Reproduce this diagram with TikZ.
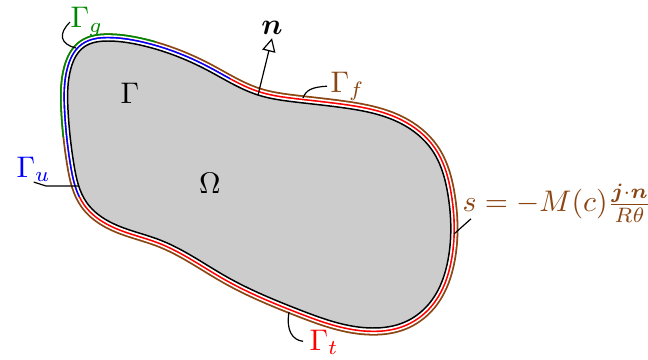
\documentclass[tikz,border=0pt]{standalone}
\usepackage{amsmath,amssymb}
\usepackage{bm}
\usepackage{tikz}
\usetikzlibrary{arrows.meta,hobby}
\definecolor{bdbrown}{RGB}{139,69,19}
\definecolor{bdgreen}{RGB}{0,135,0}
\newcommand{\bodypath}{plot[closed hobby] coordinates {(71,68) (84,47) (108,41) (140,45) (207,70) (258,95) (295,102) (345,108) (400,123) (432,150) (448,195) (448,260) (432,300) (405,322) (372,328) (300,310) (227,277) (160,240) (112,223) (87,203) (74,165) (68,110)}}

\begin{document}
\begin{tikzpicture}[
    x=0.0118cm, y=-0.0118cm,
    outerring/.style={line width=5.1pt, line join=round},
    outergap/.style={white, line width=3.9pt, line join=round},
    innerring/.style={line width=2.8pt, line join=round},
    innergap/.style={white, line width=1.7pt, line join=round},
    leader/.style={black, line width=0.4pt},
    bclabel/.style={anchor=base west, inner sep=0pt},
  ]
    \useasboundingbox (0,0) rectangle (648,360);

    % Outer boundary layer: Gamma_g (green) and flux part (brown)
    \draw[outerring, bdbrown] \bodypath;
    \begin{scope}
      \clip (40,137) -- (85,137) -- (149,69) -- (160,24) -- (160,0) -- (0,0) -- (0,137) -- cycle;
      \draw[outerring, bdgreen] \bodypath;
    \end{scope}
    \draw[outergap] \bodypath;

    % Inner boundary layer: Gamma_u (blue) and Gamma_t (red)
    \draw[innerring, red] \bodypath;
    \begin{scope}
      \clip (65,204) -- (101,186) -- (221,97) -- (239,61) -- (239,0) -- (0,0) -- (0,204) -- cycle;
      \draw[innerring, blue] \bodypath;
    \end{scope}
    \draw[innergap] \bodypath;

    % The domain itself
    \filldraw[fill=black!20, line width=0.5pt, line join=round] \bodypath;

    % Interior labels
    \node (gam) at (130,93) {$\Gamma$};
    \node (omega) at (210,183) {$\Omega$};

    % Outward normal
    \coordinate (nbase) at (258,95);
    \node[inner sep=1pt] (nlbl) at (272,28) {$\boldsymbol{n}$};
    \draw[leader, -{Triangle[open, length=4.5pt, width=4.5pt]}] (nbase) -- (nlbl.south);

    % Boundary labels with leaders
    \coordinate (pg) at (76,48);
    \coordinate (pu) at (78,186);
    \coordinate (pf) at (303,98);
    \coordinate (ps) at (454,234);
    \coordinate (pt) at (289,312);

    \node[bclabel, text=bdgreen] (lg) at (70,28) {$\Gamma_g$};
    \node[bclabel, text=blue] (lu) at (16,177) {$\Gamma_u$};
    \node[bclabel, text=bdbrown] (lf) at (330,92) {$\Gamma_f$};
    \node[bclabel, text=red] (lt) at (309,350) {$\Gamma_t$};
    \node[bclabel, text=bdbrown] (ls) at (462,212)
      {$s=-M(c)\frac{\boldsymbol{j}\cdot\boldsymbol{n}}{R\theta}$};

    \draw[leader] (pg) .. controls (60,44) and (58,34) .. (lg.west);
    \draw[leader] (lu.south) -- (46,186) -- (pu);
    \draw[leader, shorten >=1pt] (pf) .. controls (306,90) and (312,87) .. (lf.west);
    \draw[leader] (ps) -- ([shift={(3pt,-2.3pt)}]ls.base west);
    \draw[leader, shorten >=2pt] (pt) .. controls (286,330) and (292,340) .. (lt.west);
  \end{tikzpicture}
\end{document}
